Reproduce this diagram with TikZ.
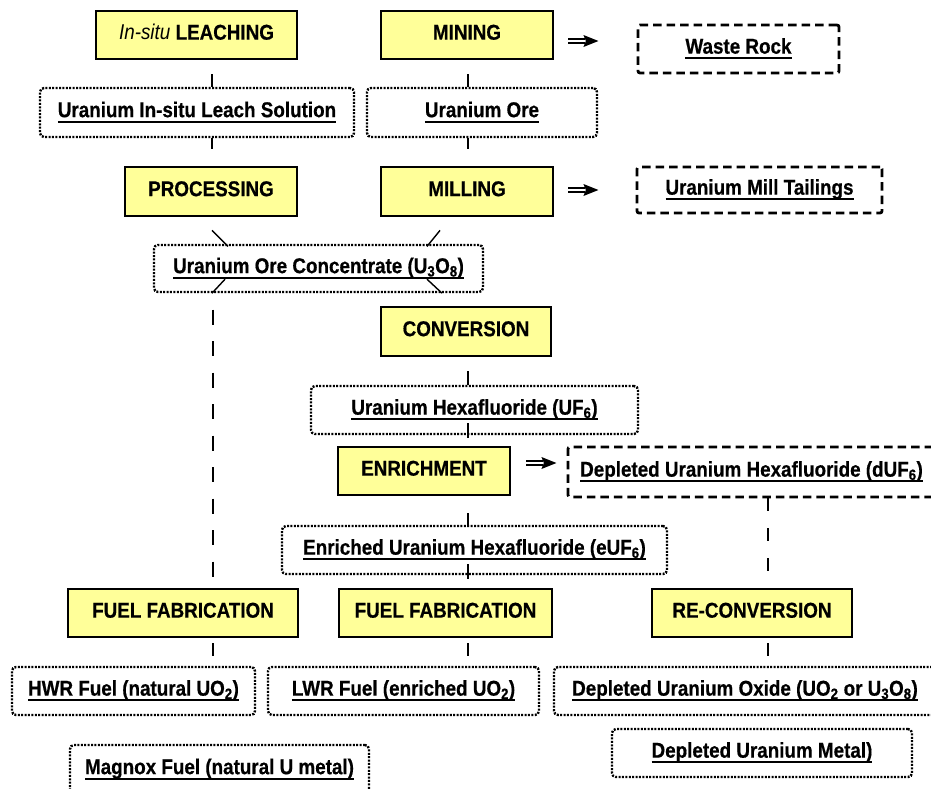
\documentclass[tikz,border=0pt]{standalone}
\usepackage{fontspec}
\setmainfont{Liberation Sans}[BoldFeatures={FakeBold=0.6}]
\usepackage{graphicx}
\definecolor{boxyellow}{RGB}{255,255,153}
\newcommand\tx[1]{\scalebox{0.88}[1]{#1}}
\newcommand\ulx[1]{\setbox0\hbox{#1}\rlap{\rule[-5.8pt]{\wd0}{2.3pt}}\box0}
\tikzset{
  dblarr/.pic={
    \draw[line width=1.9pt] (0,-2.2) -- (17,-2.2) (0,2.2) -- (17,2.2);
    \fill (15,-6) -- (30,0) -- (15,6) -- (17.5,0) -- cycle;
  }
}
\begin{document}
\begin{tikzpicture}[x=1pt,y=-1pt,
  every node/.style={font=\fontsize{21.4}{24}\selectfont\bfseries, inner sep=0pt, text height=15.3pt, text depth=6pt},
  ybox/.style={draw, line width=2.8pt, fill=boxyellow},
  dotbox/.style={draw, line width=2.4pt, dash pattern=on 2pt off 1.4pt, rounded corners=4pt, fill=white},
  dashbox/.style={draw, line width=2.8pt, dash pattern=on 8.5pt off 5pt, rounded corners=2pt, fill=white},
  conn/.style={line width=1.4pt},
  dconn/.style={line width=1.9pt, dash pattern=on 15pt off 16.5pt, dash phase=15pt}]
\useasboundingbox (0,0) rectangle (931,788);
\clip (0,0) rectangle (931,788);
\fill[white] (0,0) rectangle (931,788);

% row 1
\node[ybox, minimum width=201pt, minimum height=48pt] (leach) at (196.5,35) {\tx{{\mdseries\itshape In-situ} LEACHING}};
\node[ybox, minimum width=172pt, minimum height=48pt] (mining) at (467,35) {\tx{MINING}};
\node[dashbox, minimum width=201pt, minimum height=48pt] (waste) at (738.5,49) {\tx{\ulx{Waste Rock}}};
% row 2
\node[dotbox, minimum width=314pt, minimum height=49pt] (solution) at (197,112.5) {\tx{\ulx{Uranium In-situ Leach Solution}}};
\node[dotbox, minimum width=230pt, minimum height=49pt] (ore) at (482,112.5) {\tx{\ulx{Uranium Ore}}};
% row 3
\node[ybox, minimum width=172pt, minimum height=49pt] (processing) at (211,191.5) {\tx{PROCESSING}};
\node[ybox, minimum width=172pt, minimum height=49pt] (milling) at (467,191.5) {\tx{MILLING}};
\node[dashbox, minimum width=245pt, minimum height=46pt] (tailings) at (759.5,190) {\tx{\ulx{Uranium Mill Tailings}}};
% concentrate
\node[dotbox, minimum width=329pt, minimum height=47pt] (conc) at (318.5,268.5) {\tx{\ulx{Uranium Ore Concentrate (U\textsubscript{3}O\textsubscript{8})}}};
% conversion / enrichment
\node[ybox, minimum width=170pt, minimum height=49pt] (conversion) at (466,331.5) {\tx{CONVERSION}};
\node[dotbox, minimum width=327pt, minimum height=48pt] (uf6) at (474.5,410) {\tx{\ulx{Uranium Hexafluoride (UF\textsubscript{6})}}};
\node[ybox, minimum width=172pt, minimum height=48pt] (enrichment) at (424,471) {\tx{ENRICHMENT}};
\node[dashbox, minimum width=367pt, minimum height=50pt] (duf6) at (751.5,472) {\tx{\ulx{Depleted Uranium Hexafluoride (dUF\textsubscript{6})}}};
\node[dotbox, minimum width=385pt, minimum height=48pt] (euf6) at (474.5,550) {\tx{\ulx{Enriched Uranium Hexafluoride (eUF\textsubscript{6})}}};
% fabrication row
\node[ybox, minimum width=230pt, minimum height=48pt] (ff1) at (183,613) {\tx{FUEL FABRICATION}};
\node[ybox, minimum width=213pt, minimum height=48pt] (ff2) at (445.5,613) {\tx{FUEL FABRICATION}};
\node[ybox, minimum width=200pt, minimum height=48pt] (reconv) at (752,613) {\tx{RE-CONVERSION}};
% products
\node[dotbox, minimum width=243pt, minimum height=48pt] (hwr) at (133.5,691) {\tx{\ulx{HWR Fuel (natural UO\textsubscript{2})}}};
\node[dotbox, minimum width=271pt, minimum height=48pt] (lwr) at (403.5,691) {\tx{\ulx{LWR Fuel (enriched UO\textsubscript{2})}}};
\node[dotbox, minimum width=382pt, minimum height=48pt] (duox) at (745,691) {\tx{\ulx{Depleted Uranium Oxide (UO\textsubscript{2} or U\textsubscript{3}O\textsubscript{8})}}};
\node[dotbox, minimum width=300pt, minimum height=48pt] (dumetal) at (762,753) {\tx{\ulx{Depleted Uranium Metal)}}};
\node[dotbox, minimum width=299pt, minimum height=49pt] (magnox) at (219.5,769.5) {\tx{\ulx{Magnox Fuel (natural U metal)}}};

% columns for connectors
\coordinate (cA) at (212,0);
\coordinate (cB) at (468,0);
\coordinate (cD) at (768,0);
\coordinate (cE) at (213,0);
\coordinate (cM) at (440,0);
\coordinate (cR) at (442,0);

\draw[conn, shorten <=14pt] (leach.south -| cA) -- (solution.north -| cA);
\draw[conn, shorten >=17pt] (solution.south -| cA) -- (processing.north -| cA);
\draw[conn, shorten <=14pt] (mining.south -| cB) -- (ore.north -| cB);
\draw[conn, shorten >=17pt] (ore.south -| cB) -- (milling.north -| cB);
\draw[conn] (processing.south -| cA) ++(0,13) -- ++(16,16);
\draw[conn] (milling.south -| cM) ++(0,13) -- ++(-13,16);
\draw[conn] (conc.south -| cA) -- ++(13,-14);
\draw[conn] (conc.south -| cR) -- ++(-15,-14);
\draw[dconn] (conc.south -| cE) -- (ff1.north -| cE);
\draw[conn, shorten <=14pt] (conversion.south -| cB) -- (uf6.north -| cB);
\draw[conn] (uf6.south -| cB) ++(0,-12) -- ++(0,15);
\draw[conn, shorten <=17pt] (enrichment.south -| cB) -- (euf6.north -| cB);
\draw[conn] (euf6.south -| cB) ++(0,-11) -- ++(0,15);
\draw[line width=1.9pt, dash pattern=on 13pt off 17pt, shorten >=3pt] (duf6.south -| cD) -- (reconv.north -| cD);
\draw[conn, shorten <=5pt, shorten >=10pt] (ff1.south -| cE) -- (hwr.north -| cE);
\draw[conn, shorten <=5pt, shorten >=10pt] (ff2.south -| cB) -- (lwr.north -| cB);
\draw[conn, shorten <=5pt, shorten >=10pt] (reconv.south -| cD) -- (duox.north -| cD);

% by-product arrows
\pic at ([shift={(14,6)}]mining.east) {dblarr};
\pic at ([shift={(14,-1.5)}]milling.east) {dblarr};
\pic at ([shift={(15,-8)}]enrichment.east) {dblarr};
\end{tikzpicture}
\end{document}
